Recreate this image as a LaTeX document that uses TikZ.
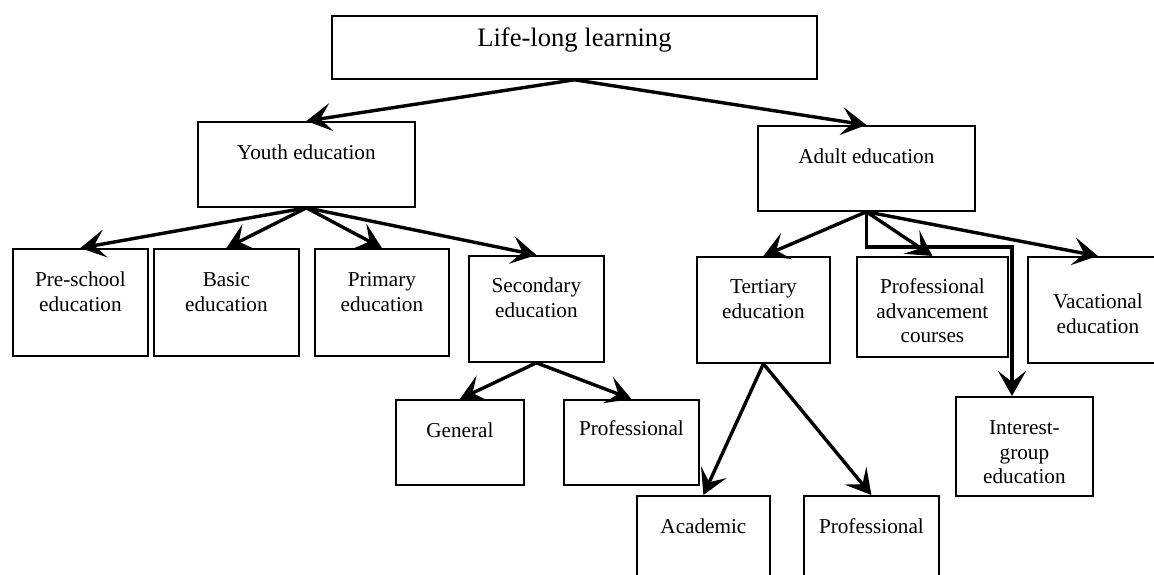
\documentclass[tikz,border=0pt]{standalone}
\usepackage{fontspec}
\setmainfont{Liberation Serif}
\usetikzlibrary{arrows.meta}
% text set at the top of a fixed box: [baseline offset]{width}{height}{text}
\newcommand{\boxtext}[4][38pt]{\parbox[c][#3][t]{#2}{\centering\rule{0pt}{#1}#4}}

\tikzset{
  box/.style={draw, line width=1.8pt, inner sep=0pt, anchor=north west,
              font=\fontsize{21.2}{24.5}\selectfont},
  arr/.style={line width=3.4pt, -{Stealth[length=25pt,width=28pt,inset=11pt]}},
}

\begin{document}
\begin{tikzpicture}[x=1pt,y=-1pt]
\clip (0,0) rectangle (1154,575);

% ---------------- top and second level ----------------
\node[box, font=\fontsize{26.6}{30}\selectfont] (life) at (331,15)
  {\boxtext[31pt]{485pt}{63pt}{Life-long learning}};
\node[box] (youth) at (197,121) {\boxtext{217pt}{85pt}{Youth education}};
\node[box] (adult) at (757,125) {\boxtext{217pt}{85pt}{Adult education}};

% ---------------- youth branch ----------------
\node[box] (pre)     at (12,248)  {\boxtext{135pt}{107pt}{Pre-school\\education}};
\node[box] (basic)   at (153,248) {\boxtext{145pt}{107pt}{Basic\\education}};
\node[box] (primary) at (314,248) {\boxtext{134pt}{107pt}{Primary\\education}};
\node[box] (second)  at (468,255) {\boxtext[37pt]{135pt}{106pt}{Secondary\\education}};
\node[box] (general) at (395,399) {\boxtext{128pt}{85pt}{General}};
\node[box] (profsec) at (563,399) {\boxtext[36pt]{135pt}{85pt}{Professional}};

% ---------------- adult branch ----------------
\node[box] (tertiary) at (696,256)  {\boxtext[37pt]{133pt}{106pt}{Tertiary\\education}};
\node[box] (profadv)  at (856,256)  {\boxtext[37pt]{151pt}{100pt}{Professional\\advancement\\courses}};
\node[box] (vacation) at (1027,256) {\boxtext[52pt]{140pt}{106pt}{Vacational\\education}};
\node[box] (interest) at (955,396)  {\boxtext{137pt}{99pt}{Interest-\\group\\education}};
\node[box] (academic) at (636,495)  {\boxtext{133pt}{110pt}{Academic}};
\node[box] (profter)  at (803,495)  {\boxtext{135pt}{110pt}{Professional}};

% ---------------- arrows ----------------
\draw[arr] (life.south) -- (youth.north);
\draw[arr] (life.south) -- (adult.north);
\foreach \child in {pre,basic,primary,second}{
  \draw[arr] (youth.south) -- (\child.north);
}
\draw[arr] (second.south) -- (general.north);
\draw[arr] (second.south) -- (profsec.north);
\foreach \child in {tertiary,profadv,vacation}{
  \draw[arr] (adult.south) -- (\child.north);
}
\coordinate (bend) at (1012,247);
\draw[arr] (adult.south) |- (bend) -- (bend |- interest.north);
\draw[arr] (tertiary.south) -- (academic.north);
\draw[arr] (tertiary.south) -- (profter.north);

\end{tikzpicture}
\end{document}
